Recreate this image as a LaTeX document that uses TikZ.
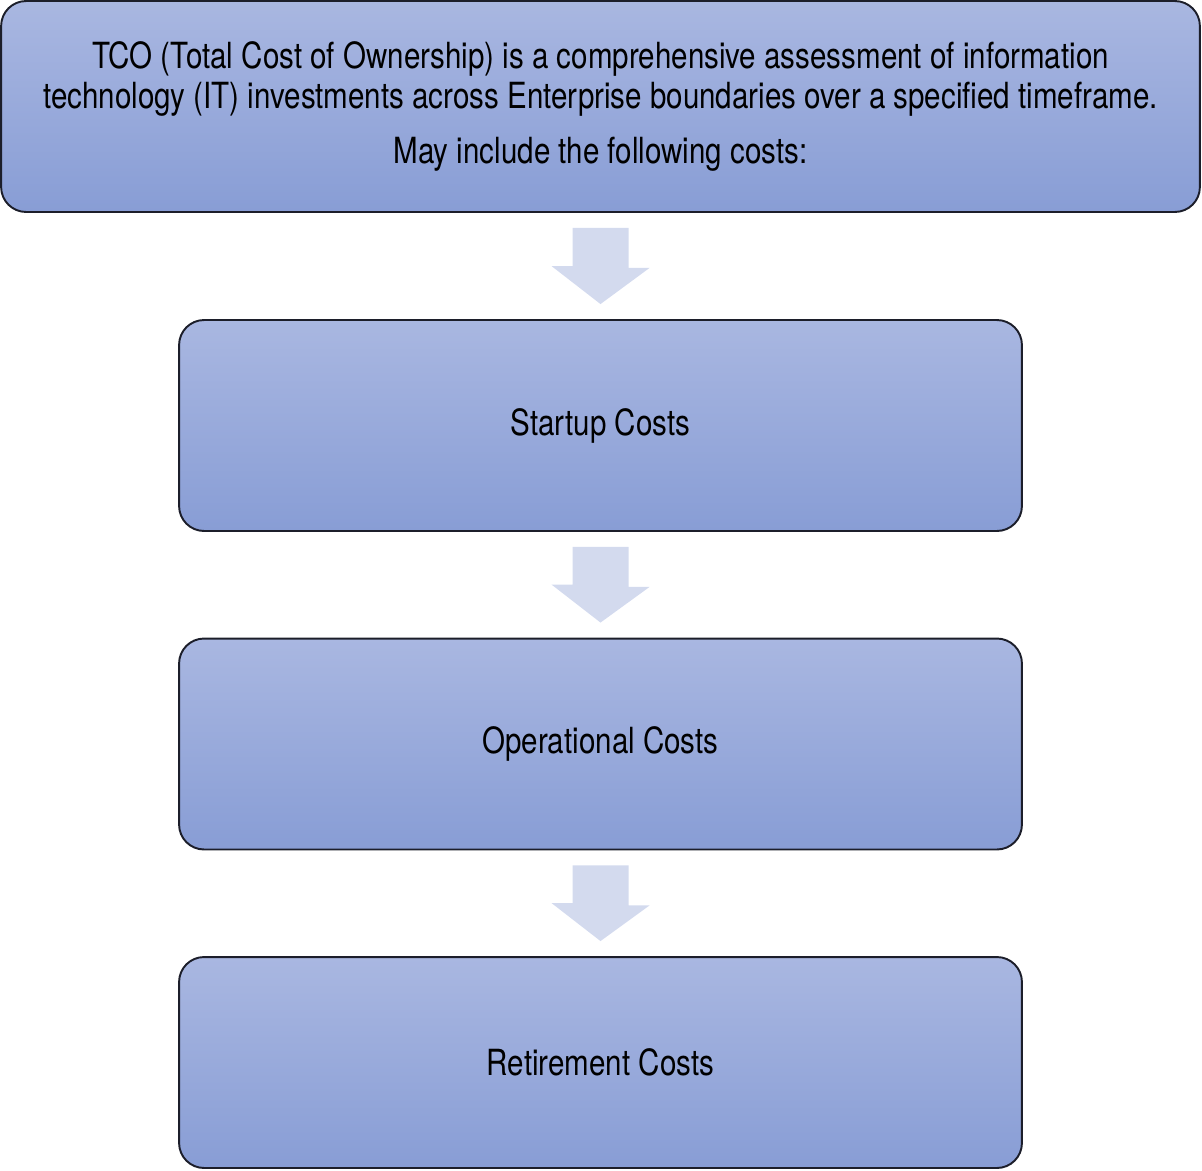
\documentclass[tikz,border=0pt]{standalone}
\usepackage{fontspec}
\setmainfont{TeX Gyre Heros}[FakeStretch=0.82]
\usetikzlibrary{calc}

\definecolor{boxtop}{HTML}{A9B7E1}
\definecolor{boxbot}{HTML}{889DD5}
\definecolor{arrowfill}{HTML}{D3DAEE}
\definecolor{boxedge}{HTML}{1C1E2A}

\tikzset{
    costbox/.style={draw=boxedge, line width=1.1pt, rounded corners=0.5cm,
        top color=boxtop, bottom color=boxbot, text=black, align=center,
        minimum width=16.86cm, minimum height=4.22cm,
        font=\fontsize{20.5}{22.7}\selectfont},
    flowarrow/.style={fill=arrowfill, draw=none}
}

\begin{document}
\begin{tikzpicture}[x=0.02cm, y=-0.02cm]
        \useasboundingbox (0,0) rectangle (1202,1170);

        \node[costbox, minimum width=23.98cm] (tco) at (600.5,106.5)
            {TCO (Total Cost of Ownership) is a comprehensive assessment of information\\
             technology (IT) investments across Enterprise boundaries over a specified timeframe.\\[9pt]
             May include the following costs:};

        \node[costbox] (startup) at (600.5,425.5) {Startup Costs};
        \node[costbox] (operational) at (600.5,744) {Operational Costs};
        \node[costbox] (retirement) at (600.5,1062.5) {Retirement Costs};

        % block arrows between the boxes
        \foreach \a/\b in {tco/startup, startup/operational, operational/retirement}
            \fill[flowarrow] ($(\a.south)+(-28,15)$) -- ++(56,0) -- ++(0,40) -- ++(21,0)
                -- ($(\b.north)+(0,-15)$) -- ++(-49,-38) -- ++(21,0) -- cycle;
    \end{tikzpicture}
\end{document}
